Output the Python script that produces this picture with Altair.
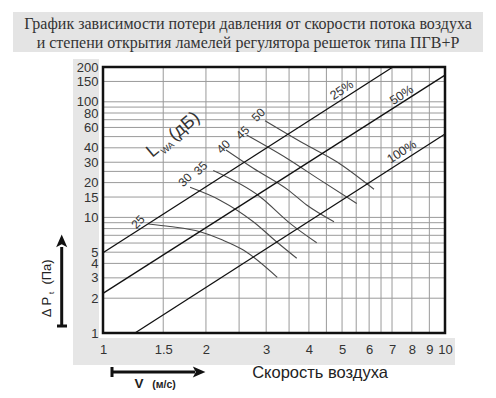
import altair as alt
import pandas as pd

W, H = 342, 266

title_lines = ["График зависимости потери давления от скорости потока воздуха",
               "и степени открытия ламелей регулятора решеток типа ПГВ+Р"]

x_grid = [1, 1.5, 2, 2.5, 3, 3.5, 4, 4.5, 5, 5.5, 6, 6.5, 7, 8, 9, 10]
x_labels = [1, 1.5, 2, 3, 4, 5, 6, 7, 8, 9, 10]
y_grid = [1, 2, 3, 4, 5, 6, 7, 8, 9, 10, 15, 20, 25, 30, 40, 50, 60, 70, 80, 90, 100, 150, 200]
y_labels = [1, 2, 3, 4, 5, 10, 15, 20, 30, 40, 60, 80, 100, 150, 200]

# damper opening lines (straight in log-log)
pct_names = ["25%", "50%", "100%"]
pct_x = [[1, 7.04], [1, 10], [1.24, 10]]
pct_y = [[4.95, 200], [2.2, 170], [1, 52.7]]
pct_label_x = [4.99, 7.47, 7.47]
pct_label_y = [126.5, 114.5, 37.0]

# sound power curves L_WA
noise_names = ["25", "30", "35", "40", "45", "50"]
noise_x = [
    [1.357, 1.57, 1.921, 2.228, 2.572, 3.233],
    [1.797, 2.198, 2.751, 3.255, 3.685],
    [2.101, 2.878, 3.523, 4.216],
    [2.289, 2.751, 3.475, 3.94, 4.736],
    [2.63, 3.445, 4.31, 5.52],
    [2.977, 3.852, 4.824, 6.2],
]
noise_y = [
    [8.77, 8.34, 7.52, 6.4, 5.22, 3.03],
    [18.2, 14.1, 9.18, 5.97, 4.43],
    [25.4, 15.1, 8.89, 6.04],
    [38.3, 26.6, 17.3, 12.8, 9.18],
    [51.6, 32.5, 21.1, 13.2],
    [68.6, 43.8, 30.3, 17.5],
]
noise_label_x = [1.266, 1.738, 1.931, 2.248, 2.562, 2.845]
noise_label_y = [9.12, 21.1, 26.6, 40.9, 54.0, 76.9]

lwa_parts = ["L", "WA", "(дБ)"]
lwa_x = [1.40, 1.545, 1.73]
lwa_y = [37.5, 40.0, 61.0]
lwa_size = [18, 9, 18]

FONT = "Liberation Sans"
SERIF = "'Liberation Serif', serif"

# ---------------- tables ----------------
pct_rows = []
for n, xs, ys in zip(pct_names, pct_x, pct_y):
    for i, (a, b) in enumerate(zip(xs, ys)):
        pct_rows.append({"name": n, "x": a, "y": b, "o": i})
pct_df = pd.DataFrame(pct_rows)
pct_lab = pd.DataFrame({"t": pct_names, "x": pct_label_x, "y": pct_label_y})

noise_rows = []
for n, xs, ys in zip(noise_names, noise_x, noise_y):
    for i, (a, b) in enumerate(zip(xs, ys)):
        noise_rows.append({"name": n, "x": a, "y": b, "o": i})
noise_df = pd.DataFrame(noise_rows)
noise_lab = pd.DataFrame({"t": noise_names, "x": noise_label_x, "y": noise_label_y})
lwa_df = pd.DataFrame({"t": lwa_parts, "x": lwa_x, "y": lwa_y, "s": lwa_size})
xg_df = pd.DataFrame({"x": x_grid})
yg_df = pd.DataFrame({"y": y_grid})

xs_ = alt.Scale(type="log", domain=[1, 10], nice=False)
ys_ = alt.Scale(type="log", domain=[1, 200], nice=False)

x_axis = alt.Axis(values=x_labels, grid=False, ticks=False, domain=False, title=None, zindex=1,
                  labelFont=FONT, labelFontSize=13, labelColor="#333", labelPadding=10,
                  labelOverlap=False, labelFlush=False, labelBound=False,
                  labelExpr="'' + datum.value")
y_axis = alt.Axis(values=y_labels, grid=False, ticks=False, domain=False, title=None, zindex=1,
                  labelFont=FONT, labelFontSize=13, labelColor="#333", labelPadding=5,
                  labelOverlap=False, labelFlush=False, labelBound=False,
                  labelExpr="'' + datum.value")

X = alt.X("x:Q", scale=xs_, axis=x_axis)
Y = alt.Y("y:Q", scale=ys_, axis=y_axis)

one = pd.DataFrame({"a": [1]})
base1 = alt.Chart(one)


def rect(x1, x2, y1, y2, fill):
    return base1.mark_rect(fill=fill).encode(
        x=alt.value(x1), x2=alt.value(x2), y=alt.value(y1), y2=alt.value(y2))


def txt(t, x, y, size, font=FONT, angle=0, weight="normal", color="#222", align="center"):
    kw = dict(text=t, font=font, fontSize=size, color=color, fontWeight=weight,
              align=align, baseline="middle")
    if angle:
        kw["angle"] = angle
    return base1.mark_text(**kw).encode(x=alt.value(x), y=alt.value(y))


def seg(x1, y1, x2, y2, w=3):
    return base1.mark_rule(color="#111", strokeWidth=w).encode(
        x=alt.value(x1), x2=alt.value(x2), y=alt.value(y1), y2=alt.value(y2))


bands = rect(-30, -4, -8, 271, "#e6e6e6") + rect(-30, 352, 271, 298, "#e6e6e6")
title_box = rect(-90, 380, -55, -15, "#e4e4e4")
title_t = (txt(title_lines[0], 145, -43, 16, font=SERIF, color="#333")
           + txt(title_lines[1], 145, -24, 16, font=SERIF, color="#333"))

plot_bg = rect(0, W, 0, H, "white")
x_gridlines = alt.Chart(xg_df).mark_rule(color="#9a9a9a", strokeWidth=1).encode(x=X)
y_gridlines = alt.Chart(yg_df).mark_rule(color="#9a9a9a", strokeWidth=1).encode(y=Y)

noise_lines = alt.Chart(noise_df).mark_line(color="#4a4a4a", strokeWidth=1.1,
                                            interpolate="monotone").encode(
    x=X, y=Y, detail="name:N", order="o:Q")
pct_lines = alt.Chart(pct_df).mark_line(color="#111", strokeWidth=1.3).encode(
    x=X, y=Y, detail="name:N", order="o:Q")

noise_text = alt.Chart(noise_lab).mark_text(font=FONT, fontSize=12, color="#333", angle=315,
                                            align="center", baseline="middle").encode(
    x=X, y=Y, text="t:N")
pct_text = alt.Chart(pct_lab).mark_text(font=FONT, fontSize=12.5, color="#333", angle=327,
                                        align="center", baseline="middle").encode(
    x=X, y=Y, text="t:N")
lwa_text = alt.Chart(lwa_df).mark_text(font=FONT, color="#333", angle=320,
                                       align="center", baseline="middle").encode(
    x=X, y=Y, text="t:N", size=alt.Size("s:Q", scale=None, legend=None))

frame = base1.mark_rect(fill=None, stroke="#111", strokeWidth=2.5).encode(
    x=alt.value(0), x2=alt.value(W), y=alt.value(0), y2=alt.value(H))

# y arrow
y_arrow = (seg(-41.3, 180, -41.3, 259) + seg(-46, 259, -36, 259)
           + base1.mark_point(shape="M0,-1L0.75,0.7L0,0.3L-0.75,0.7Z", filled=True, color="#111",
                              size=220, opacity=1).encode(x=alt.value(-41.3), y=alt.value(175)))
y_title = (txt("Δ P", -56, 240, 13, angle=270) + txt("t", -51.5, 226, 8, angle=270)
           + txt("(Па)", -56, 205, 13, angle=270))
# x arrow
x_arrow = (seg(9, 305, 92, 305) + seg(9, 300, 9, 310)
           + base1.mark_point(shape="M1,0L-0.7,0.75L-0.3,0L-0.7,-0.75Z", filled=True, color="#111",
                              size=220, opacity=1).encode(x=alt.value(95), y=alt.value(305)))
x_title = (txt("V", 36, 317, 13.5, weight="bold") + txt("(м/с)", 61, 318, 10.5, weight="bold")
           + txt("Скорость воздуха", 217, 306, 16.5, color="#222"))

chart = alt.layer(
    bands, title_box, title_t, plot_bg, x_gridlines, y_gridlines, noise_lines, pct_lines,
    noise_text, pct_text, lwa_text, frame, y_arrow, y_title, x_arrow, x_title
).properties(
    width=W, height=H,
    padding={"left": 95, "top": 59, "right": 43, "bottom": 57},
    autosize=alt.AutoSizeParams(type="none"),
).configure_view(stroke=None).configure(background="white")

chart.save("out.html", embed_options={"renderer": "svg", "actions": False})
